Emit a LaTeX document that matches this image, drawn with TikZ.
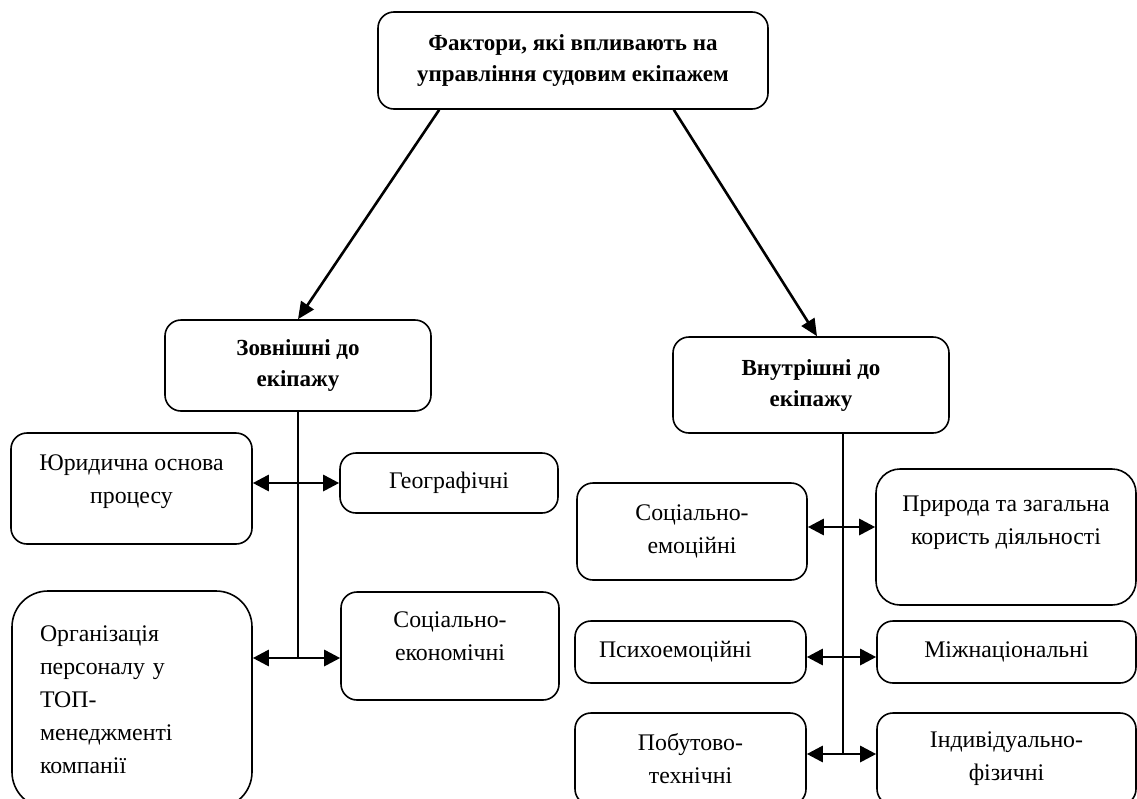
\documentclass[tikz,border=0pt]{standalone}
\usepackage{fontspec}
\setmainfont{Liberation Serif}
\usepackage{tikz}
\usetikzlibrary{positioning,arrows.meta,calc}

\begin{document}
\begin{tikzpicture}[x=1pt,y=-1pt,
    factor/.style={draw, line width=1.6pt, rounded corners=16pt, align=center,
        inner sep=0pt, font=\fontsize{23.8}{33}\selectfont},
    title/.style={factor, font=\fontsize{23}{31}\selectfont\bfseries},
    arr/.style={line width=2.6pt, -{Triangle[length=17pt,width=15pt]}},
    dbl/.style={line width=2.8pt, {Triangle[length=16pt,width=16pt]}-{Triangle[length=16pt,width=16pt]}},
    stem/.style={line width=1.4pt}]
    \useasboundingbox (0,0) rectangle (1137,798);
    \clip (0,0) rectangle (1137,798);

    % Draw the main box and the two groups
    \node[title, minimum width=390pt, minimum height=97pt] (top) at (573,60.5)
        {Фактори, які впливають на\\управління судовим екіпажем};
    \node[title, minimum width=266pt, minimum height=91pt] (outer) at (298,365.5)
        {Зовнішні до\\екіпажу};
    \node[title, minimum width=276pt, minimum height=96pt] (inner) at (811,385)
        {Внутрішні до\\екіпажу};

    \draw[arr] ([xshift=62pt]top.south west) -- (outer.north);
    \draw[arr] ([xshift=-95pt]top.south east) -- ([xshift=6pt]inner.north);

    % External factors
    \node[factor, minimum width=241pt, minimum height=111pt] (legal) at (131.5,488.5)
        {Юридична основа\\процесу\\[-14pt]\mbox{}};
    \node[factor, minimum width=218pt, minimum height=60pt] (geo) at (449,483)
        {Географічні};
    \node[factor, rounded corners=36pt, text width=184pt, inner xsep=28pt, align=left,
        minimum height=217pt] (org) at (132,699.5)
        {Організація\\персоналу у\\ТОП-\\менеджменті\\компанії};
    \node[factor, minimum width=218pt, minimum height=108pt] (soceco) at (450,646)
        {Соціально-\\економічні\\[-14pt]\mbox{}};

    \coordinate (j1) at (298,483);
    \coordinate (j2) at (298,658);
    \draw[stem] (outer.south) -- (j2);
    \draw[dbl] (legal.east |- j1) -- (geo.west |- j1);
    \draw[dbl] (org.east |- j2) -- (soceco.west |- j2);

    % Internal factors
    \node[factor, minimum width=230pt, minimum height=97pt] (socemo) at (692,531.5)
        {Соціально-\\емоційні};
    \node[factor, rounded corners=24pt, minimum width=260pt, minimum height=136pt] (nature) at (1006,537)
        {Природа та загальна\\користь діяльності\\\mbox{}};
    \node[factor, text width=183pt, inner xsep=24pt, align=left,
        minimum height=62pt] (psych) at (690.5,652)
        {Психоемоційні};
    \node[factor, minimum width=259pt, minimum height=62pt] (intl) at (1006.5,652)
        {Міжнаціональні};
    \node[factor, minimum width=231pt, minimum height=92pt] (house) at (690.5,759)
        {Побутово-\\технічні};
    \node[factor, minimum width=259pt, minimum height=92pt] (indiv) at (1006.5,759)
        {Індивідуально-\\фізичні};

    \coordinate (k1) at (843,527);
    \coordinate (k2) at (843,657);
    \coordinate (k3) at (843,754);
    \draw[stem] (inner.south -| k1) -- (k3);
    \draw[dbl] (socemo.east |- k1) -- (nature.west |- k1);
    \draw[dbl] (psych.east |- k2) -- (intl.west |- k2);
    \draw[dbl] (house.east |- k3) -- (indiv.west |- k3);
\end{tikzpicture}
\end{document}
